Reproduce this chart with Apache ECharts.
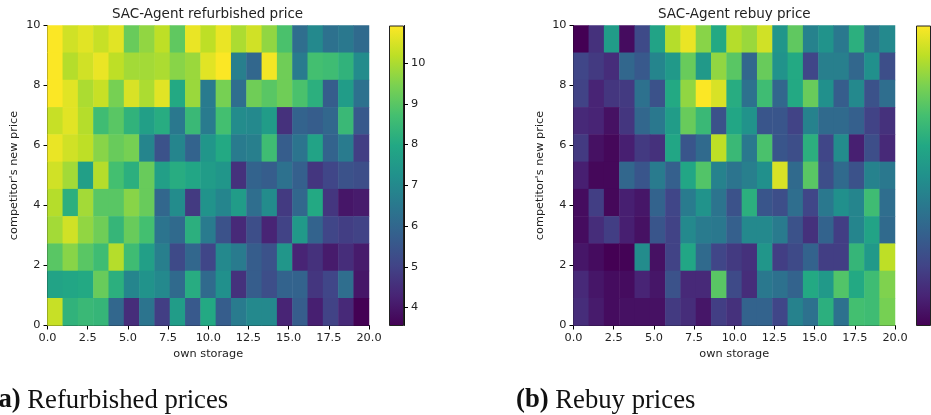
<!DOCTYPE html>
<html><head><meta charset="utf-8">
<style>html,body{margin:0;padding:0;background:#fff;overflow:hidden}#c{width:931px;height:415px}</style>
<script src="https://cdn.jsdelivr.net/npm/echarts@6/dist/echarts.min.js"></script></head>
<body><div id="c"></div>
<script>
// rows listed top (competitor's price 10) to bottom (0); 21 storage bins across
const refurbishedPrices = [
[10.9,10.4,10.6,10.3,10.6,9.2,9.7,10.2,9.1,10.7,10.2,10.7,10.0,10.4,9.7,8.8,6.2,7.0,6.3,6.5,6.1],
[10.9,10.1,10.4,10.7,10.2,9.9,9.9,10.0,9.6,9.8,10.6,10.9,6.7,6.0,10.8,9.3,6.6,8.7,8.6,8.3,7.1],
[10.9,10.6,10.0,10.3,9.4,10.5,10.0,10.6,8.0,9.8,6.6,9.4,6.2,9.3,9.0,9.3,8.8,8.2,5.7,7.6,6.3],
[10.3,10.6,10.1,8.6,9.0,8.3,7.7,8.1,6.5,8.5,6.6,8.7,7.1,7.0,7.6,4.6,5.9,5.7,6.0,8.5,5.6],
[10.7,10.4,10.2,9.6,9.2,9.4,6.9,5.4,6.9,5.9,7.4,8.0,6.6,6.7,8.6,5.7,6.4,7.8,5.9,6.6,4.9],
[10.4,9.9,7.7,10.1,8.7,8.2,9.2,7.7,8.1,7.9,7.6,7.4,4.6,5.9,5.7,6.3,5.8,4.7,5.1,5.4,5.3],
[10.1,8.2,9.9,9.0,9.0,9.6,9.2,6.0,7.1,4.8,7.3,6.9,7.6,6.2,7.1,4.8,6.0,8.0,4.7,4.0,4.1],
[9.9,10.4,9.7,9.3,8.4,9.2,8.7,6.4,6.1,8.2,6.6,5.4,4.4,5.3,4.3,5.0,7.5,5.9,5.1,4.9,5.0],
[9.0,9.6,9.0,8.6,10.1,8.6,7.7,6.7,5.2,6.0,5.1,7.0,6.6,5.7,5.4,7.4,4.3,4.6,4.1,4.5,4.1],
[7.8,7.9,8.0,9.2,8.2,6.9,7.3,7.0,6.1,8.1,6.1,7.2,4.6,5.7,5.3,5.9,5.9,4.7,5.1,6.2,4.0],
[10.3,8.3,8.5,8.4,6.0,4.5,6.4,4.9,7.6,5.6,8.0,5.7,6.6,7.0,7.0,4.3,5.7,4.2,5.0,4.4,3.56]
];
const rebuyPrices = [
[3.56,4.6,7.6,3.8,5.2,7.8,10.1,10.7,9.6,8.0,10.1,9.8,10.4,7.4,9.1,6.8,7.3,6.5,8.2,6.4,7.0],
[5.1,4.8,4.5,6.0,5.6,6.9,7.5,9.2,7.5,9.7,9.0,6.0,9.2,7.3,8.0,5.1,6.7,6.7,6.0,7.2,5.3],
[5.0,4.3,4.7,4.8,6.3,5.4,8.0,9.7,10.9,10.5,8.1,6.3,8.6,6.0,8.0,9.2,7.2,5.7,7.0,5.4,6.2],
[4.4,4.3,3.9,4.7,6.0,6.5,7.6,9.2,8.5,5.4,7.9,7.3,5.5,5.5,5.0,6.8,6.1,6.1,5.8,5.0,4.6],
[4.8,3.9,3.7,4.2,4.8,4.6,7.9,5.5,6.1,10.2,8.5,6.5,8.8,5.5,5.3,8.2,5.1,7.1,4.2,5.3,4.4],
[4.2,3.7,3.7,6.0,5.5,6.6,5.8,7.9,8.9,6.8,6.4,6.7,7.2,10.5,6.1,9.0,5.3,6.1,5.4,6.8,6.5],
[3.8,4.9,3.7,4.2,4.0,5.9,5.1,6.6,7.3,6.4,5.4,8.2,5.5,5.3,6.2,5.1,6.5,7.2,6.9,8.6,6.2],
[3.8,4.5,4.9,4.2,3.9,5.5,5.0,7.0,6.6,6.5,5.8,7.0,7.0,6.6,5.4,4.6,5.9,4.9,6.9,7.8,6.1],
[4.0,3.8,3.56,3.6,7.1,3.9,5.0,7.9,6.1,5.1,4.8,4.6,7.4,4.9,5.2,5.9,4.9,4.9,8.4,7.5,10.2],
[4.4,4.0,3.8,3.8,4.3,4.0,5.4,4.4,4.4,9.0,5.2,4.5,6.5,6.3,5.9,8.0,7.5,8.9,8.0,8.6,9.5],
[4.5,4.1,3.8,3.9,3.9,3.9,4.8,4.5,4.0,4.9,4.6,5.9,5.9,5.1,6.8,6.3,8.2,6.3,8.7,8.6,9.4]
];
const xTicks = [0,2.5,5,7.5,10,12.5,15,17.5,20];
const yTicks = [0,2,4,6,8,10];
const colorbarTicks = [4,5,6,7,8,9,10];
const colorMin = 3.56, colorMax = 10.92;
const viridis = ['#440154','#482475','#414487','#355f8d','#2a788e','#21918c','#22a884','#44bf70','#7ad151','#bddf26','#fde725'];
const titles = ['SAC-Agent refurbished price','SAC-Agent rebuy price'];
const captions = [['(a)','Refurbished prices'],['(b)','Rebuy prices']];

const FONT = '"DejaVu Sans"', INK = '#222';
const xBins = refurbishedPrices[0].map((_, i) => String(i));
const yBins = refurbishedPrices.map((_, i) => String(i));
const line = {show:true, lineStyle:{color:'#111', width:1}};
const tick = v => ({show:true, length:4, lineStyle:{color:'#000', width:1}, customValues:v});
const label = v => ({show:true, color:INK, fontFamily:FONT, fontSize:11.3, margin:7, customValues:v, formatter:f=>f});
const panels = [
  {left:47.5, data:refurbishedPrices, titleLeft:112},
  {left:573.5, data:rebuyPrices, titleLeft:658}
];
const bars = [{left:389, width:15, labels:true},{left:916, width:18, labels:false}];
const grid=[], xAxis=[], yAxis=[], series=[], visualMap=[], title=[];
panels.forEach((p,k)=>{
  const g = grid.length;
  grid.push({left:p.left, top:25.5, width:321.5, height:300, containLabel:false});
  // hidden category axes place the cells and draw the top/right spines
  const xc = xAxis.length;
  xAxis.push({type:'category', gridIndex:g, position:'top', data:xBins, axisLine:line, axisTick:{show:false}, axisLabel:{show:false}, splitLine:{show:false}});
  xAxis.push({type:'value', gridIndex:g, position:'bottom', min:0, max:20, interval:2.5, axisLine:line,
    axisTick:{show:true,length:4,lineStyle:{color:'#000',width:1}},
    axisLabel:{color:INK,fontFamily:FONT,fontSize:11.3,margin:7,formatter:v=>v.toFixed(1)}, splitLine:{show:false},
    name:'own storage', nameLocation:'middle', nameGap:23, nameTextStyle:{color:INK,fontFamily:FONT,fontSize:11.3}});
  const yc = yAxis.length;
  yAxis.push({type:'category', gridIndex:g, position:'right', data:yBins, axisLine:line, axisTick:{show:false}, axisLabel:{show:false}, splitLine:{show:false}});
  yAxis.push({type:'value', gridIndex:g, position:'left', min:0, max:10, interval:2, axisLine:line,
    axisTick:{show:true,length:4,lineStyle:{color:'#000',width:1}},
    axisLabel:{color:INK,fontFamily:FONT,fontSize:11.3,margin:7}, splitLine:{show:false},
    name:"competitor's new price", nameLocation:'middle', nameRotate:90, nameGap:28, nameTextStyle:{color:INK,fontFamily:FONT,fontSize:11.3}});
  const cells=[];
  p.data.forEach((row,r)=>row.forEach((v,c)=>cells.push([c,p.data.length-1-r,v])));
  series.push({type:'heatmap', xAxisIndex:xc, yAxisIndex:yc, data:cells, itemStyle:{borderWidth:0}, progressive:0, z:1});
  visualMap.push({show:false, type:'continuous', seriesIndex:series.length-1, dimension:2, min:colorMin, max:colorMax, inRange:{color:viridis}});
  title.push({text:titles[k], left:p.titleLeft, top:5, padding:[2,0,2,0], textStyle:{color:INK,fontFamily:FONT,fontSize:13.5,fontWeight:'normal'}});
});
bars.forEach(b=>{
  const g=grid.length;
  grid.push({left:b.left, top:25.5, width:b.width, height:300, containLabel:false});
  const xi=xAxis.length, yi=yAxis.length;
  xAxis.push({type:'category', gridIndex:g, data:[''], show:false});
  yAxis.push({type:'value', gridIndex:g, position:'right', min:colorMin, max:colorMax, scale:true, axisLine:line,
    axisTick:tick(colorbarTicks), axisLabel:b.labels?label(colorbarTicks):{show:false}, splitLine:{show:false}});
  series.push({type:'bar', xAxisIndex:xi, yAxisIndex:yi, data:[colorMax], barWidth:'100%', silent:true, z:1,
    itemStyle:{borderColor:'#222', borderWidth:1, color:new echarts.graphic.LinearGradient(0,1,0,0,viridis.map((c,i)=>({offset:i/(viridis.length-1),color:c})))}});
});
[[-15.5,0],[511,1]].forEach(([l,i])=>{
  title.push({text:'{b|'+captions[i][0]+'} '+captions[i][1], left:l, top:382, textStyle:{color:'#111',fontFamily:'"Liberation Serif"',fontSize:26.7,fontWeight:'normal',
    rich:{b:{fontFamily:'"Liberation Serif"',fontSize:26.7,fontWeight:'bold',color:'#111'}}}});
});
const chart = echarts.init(document.getElementById('c'),null,{renderer:'canvas'});
chart.setOption({animation:false, backgroundColor:'#fff', title, grid, xAxis, yAxis, series, visualMap, tooltip:{show:false}});
</script></body></html>
